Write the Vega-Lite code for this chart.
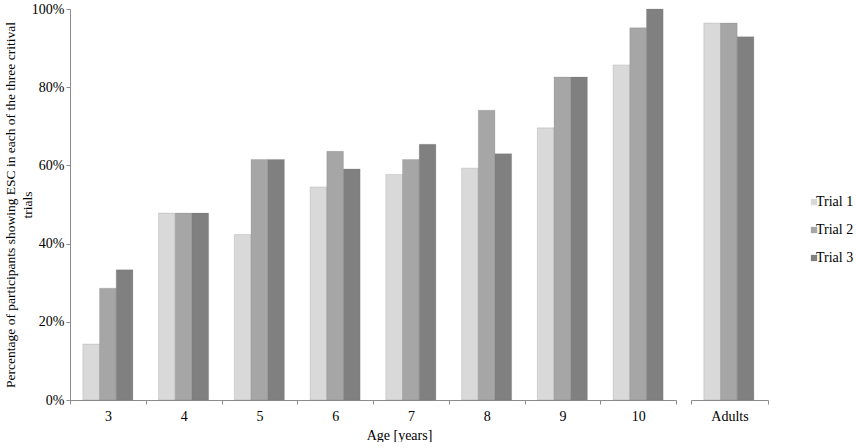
{
  "$schema": "https://vega.github.io/schema/vega-lite/v6.json",
  "background": "white",
  "padding": {"left": 3, "top": 2, "right": 0, "bottom": 0},
  "config": {
    "font": "Liberation Serif",
    "view": {"stroke": null},
    "axis": {
      "domainColor": "#8c8c8c",
      "tickColor": "#8c8c8c",
      "tickSize": 4,
      "labelFont": "Liberation Serif",
      "titleFont": "Liberation Serif",
      "labelColor": "#000000",
      "titleColor": "#000000",
      "labelFontSize": 14,
      "titleFontSize": 14,
      "titleFontWeight": "normal",
      "grid": false
    },
    "concat": {"spacing": 13}
  },
  "data": {
    "values": [
      {"age": "3", "trial": "Trial 1", "pct": 14.3},
      {"age": "3", "trial": "Trial 2", "pct": 28.6},
      {"age": "3", "trial": "Trial 3", "pct": 33.3},
      {"age": "4", "trial": "Trial 1", "pct": 47.8},
      {"age": "4", "trial": "Trial 2", "pct": 47.8},
      {"age": "4", "trial": "Trial 3", "pct": 47.8},
      {"age": "5", "trial": "Trial 1", "pct": 42.3},
      {"age": "5", "trial": "Trial 2", "pct": 61.5},
      {"age": "5", "trial": "Trial 3", "pct": 61.5},
      {"age": "6", "trial": "Trial 1", "pct": 54.5},
      {"age": "6", "trial": "Trial 2", "pct": 63.6},
      {"age": "6", "trial": "Trial 3", "pct": 59.1},
      {"age": "7", "trial": "Trial 1", "pct": 57.7},
      {"age": "7", "trial": "Trial 2", "pct": 61.5},
      {"age": "7", "trial": "Trial 3", "pct": 65.4},
      {"age": "8", "trial": "Trial 1", "pct": 59.3},
      {"age": "8", "trial": "Trial 2", "pct": 74.1},
      {"age": "8", "trial": "Trial 3", "pct": 63.0},
      {"age": "9", "trial": "Trial 1", "pct": 69.6},
      {"age": "9", "trial": "Trial 2", "pct": 82.6},
      {"age": "9", "trial": "Trial 3", "pct": 82.6},
      {"age": "10", "trial": "Trial 1", "pct": 85.7},
      {"age": "10", "trial": "Trial 2", "pct": 95.2},
      {"age": "10", "trial": "Trial 3", "pct": 100},
      {"age": "Adults", "trial": "Trial 1", "pct": 96.4},
      {"age": "Adults", "trial": "Trial 2", "pct": 96.4},
      {"age": "Adults", "trial": "Trial 3", "pct": 92.9}
    ]
  },
  "resolve": {"scale": {"y": "shared", "color": "shared"}},
  "hconcat": [
    {
      "width": 606,
      "height": 391,
      "transform": [{"filter": "datum.age !== 'Adults'"}],
      "mark": {"type": "bar", "stroke": "#6e6e6e", "strokeOpacity": 0.25, "strokeWidth": 0.8},
      "encoding": {
        "x": {
          "field": "age",
          "type": "nominal",
          "sort": ["3", "4", "5", "6", "7", "8", "9", "10"],
          "scale": {"paddingInner": 0, "paddingOuter": 0},
          "axis": {
            "title": "Age [years]",
            "labelAngle": 0,
            "labelPadding": 5,
            "tickBand": "extent",
            "titleX": 329,
            "titlePadding": 5
          }
        },
        "xOffset": {
          "field": "trial",
          "type": "nominal",
          "scale": {"paddingInner": 0, "paddingOuter": 0.77}
        },
        "y": {
          "field": "pct",
          "type": "quantitative",
          "scale": {"domain": [0, 100], "nice": false},
          "axis": {
            "title": ["Percentage of participants showing ESC in each of the three critival", "trials"],
            "titleFontSize": 13.5,
            "titleLineHeight": 17,
            "values": [0, 20, 40, 60, 80, 100],
            "labelExpr": "datum.value + '%'",
            "labelPadding": 2,
            "titlePadding": -3
          }
        },
        "color": {
          "field": "trial",
          "type": "nominal",
          "scale": {"domain": ["Trial 1", "Trial 2", "Trial 3"], "range": ["#d9d9d9", "#a6a6a6", "#808080"]},
          "legend": {
            "title": null,
            "orient": "none",
            "legendX": 737,
            "legendY": 186,
            "symbolType": "square",
            "symbolSize": 40,
            "symbolStrokeWidth": 0,
            "labelFont": "Liberation Serif",
            "labelFontSize": 14,
            "labelColor": "#000000",
            "labelOffset": -5,
            "rowPadding": 14
          }
        }
      }
    },
    {
      "width": 77,
      "height": 391,
      "transform": [{"filter": "datum.age === 'Adults'"}],
      "mark": {"type": "bar", "stroke": "#6e6e6e", "strokeOpacity": 0.25, "strokeWidth": 0.8},
      "encoding": {
        "x": {
          "field": "age",
          "type": "nominal",
          "scale": {"paddingInner": 0, "paddingOuter": 0},
          "axis": {"title": null, "labelAngle": 0, "labelPadding": 5, "tickBand": "extent"}
        },
        "xOffset": {
          "field": "trial",
          "type": "nominal",
          "scale": {"paddingInner": 0, "paddingOuter": 0.77}
        },
        "y": {
          "field": "pct",
          "type": "quantitative",
          "scale": {"domain": [0, 100], "nice": false},
          "axis": null
        },
        "color": {
          "field": "trial",
          "type": "nominal",
          "scale": {"domain": ["Trial 1", "Trial 2", "Trial 3"], "range": ["#d9d9d9", "#a6a6a6", "#808080"]}
        }
      }
    }
  ]
}
